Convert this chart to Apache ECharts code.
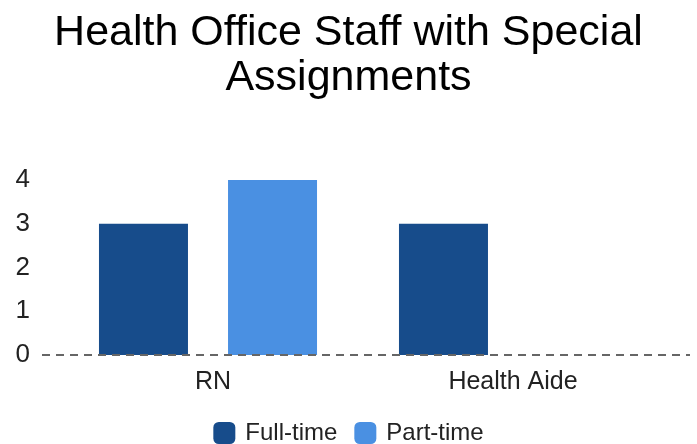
<!DOCTYPE html>
<html>
<head>
<meta charset="utf-8">
<script src="https://cdn.jsdelivr.net/npm/echarts@6/dist/echarts.min.js"></script>
<style>
html, body { margin: 0; padding: 0; background: #fff; }
#chart { width: 697px; height: 444px; }
</style>
</head>
<body>
<div id="chart"></div>
<script>
// Data
var categories = ['RN', 'Health Aide'];
var fullTime = [3, 3];
var partTime = [4, 0];
var yTicks = [0, 1, 2, 3, 4];

var font = '"Liberation Sans", Arial, sans-serif';
var chart = echarts.init(document.getElementById('chart'));

chart.setOption({
    animation: false,
    title: {
        text: 'Health Office Staff with Special\nAssignments',
        left: 'center',
        top: 6,
        textStyle: { fontFamily: font, fontSize: 43, fontWeight: 'normal', color: '#000', lineHeight: 45 }
    },
    legend: {
        top: 421,
        left: 'center',
        padding: 0,
        itemWidth: 22,
        itemHeight: 22,
        itemGap: 17,
        icon: 'roundRect',
        textStyle: { fontFamily: font, fontSize: 24, color: '#222', padding: [0, 0, 0, 5] },
        data: ['Full-time', 'Part-time']
    },
    grid: { left: 58, right: 39, top: 180, bottom: 89 },
    xAxis: {
        type: 'category',
        data: categories,
        axisLine: { show: false },
        axisTick: { show: false },
        axisLabel: { fontFamily: font, fontSize: 25, color: '#222', margin: 15, padding: [0, 0, 0, 10] }
    },
    yAxis: {
        type: 'value',
        min: yTicks[0],
        max: yTicks[yTicks.length - 1],
        interval: 1,
        splitLine: { show: false },
        axisLabel: { fontFamily: font, fontSize: 26, color: '#222', margin: 28 }
    },
    series: [
        {
            name: 'Full-time',
            type: 'bar',
            data: fullTime,
            barWidth: 89,
            barGap: '45%',
            itemStyle: { color: '#174c8b' }
        },
        {
            name: 'Part-time',
            type: 'bar',
            data: partTime,
            barWidth: 89,
            itemStyle: { color: '#4a90e2' }
        }
    ]
});

// Dashed baseline stretching past the grid like the reference
var y0 = chart.convertToPixel({ yAxisIndex: 0 }, 0);
chart.setOption({
    graphic: [{
        type: 'line',
        z: 10,
        shape: { x1: 42, y1: y0, x2: 690, y2: y0 },
        style: { stroke: '#666', lineWidth: 2, lineDash: [8, 6] }
    }]
});
</script>
</body>
</html>
